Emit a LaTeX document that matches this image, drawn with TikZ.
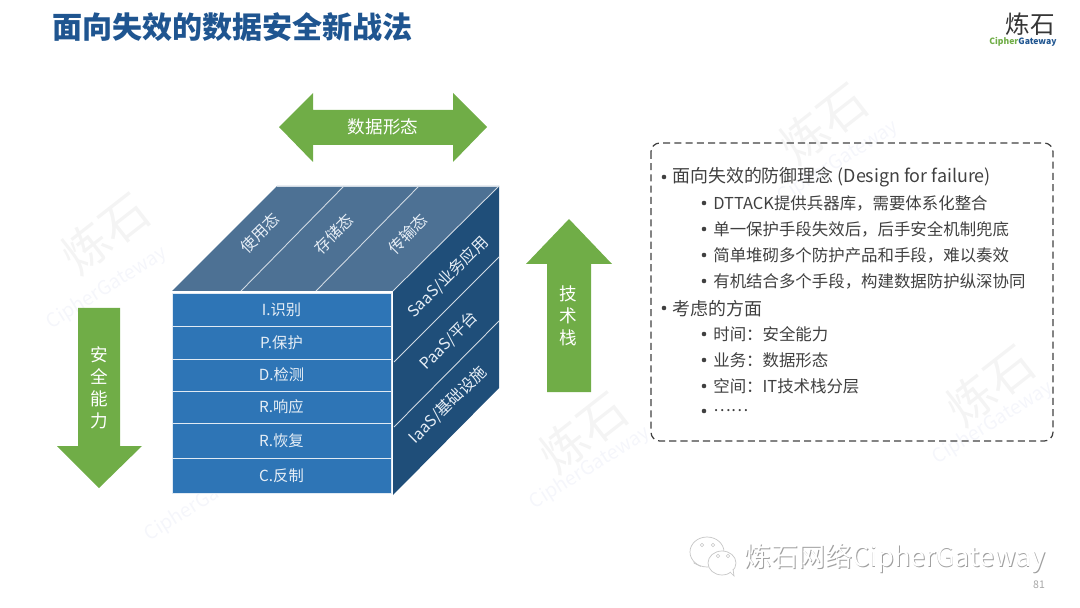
\documentclass[tikz,border=0pt]{standalone}
\usepackage{fontspec}
\setmainfont{Noto Sans CJK SC}
\usepackage{color}
\definecolor{titleblue}{HTML}{1F5590}
\definecolor{frontblue}{HTML}{2E75B6}
\definecolor{topblue}{HTML}{4D7194}
\definecolor{sideblue}{HTML}{1F4E79}
\definecolor{arrowgreen}{HTML}{70AD47}
\definecolor{bodygray}{HTML}{404040}
\definecolor{markgray}{HTML}{F4F4F4}
\definecolor{markblue}{HTML}{F5F6FB}
\tikzset{
rowbox/.style={draw=white!85!frontblue,line width=.4pt,fill=frontblue,text=white!88!frontblue,minimum width=4.38cm,inner sep=0pt,font=\fontsize{8.7}{10}\selectfont},
facetext/.style={text=white!88!frontblue,rotate=45,inner sep=0pt,font=\fontsize{9}{11}\selectfont},
facerule/.style={draw=white!75!topblue,line width=.5pt},
arrowtext/.style={text=white,inner sep=0pt,align=center,font=\fontsize{10}{12.5}\selectfont},
bigitem/.style={anchor=west,text=bodygray,inner sep=0pt,font=\fontsize{10.2}{12}\selectfont},
subitem/.style={anchor=west,text=bodygray,inner sep=0pt,font=\fontsize{9.35}{11}\selectfont},
dotitem/.style={circle,fill=bodygray,inner sep=0pt,minimum size=2.6pt},
markstone/.style={text=markgray,rotate=38,inner sep=0pt,font=\fontsize{27}{30}\selectfont},
markname/.style={text=markblue,rotate=32,inner sep=0pt,font=\fontsize{11}{13}\selectfont},
chatbubble/.style={draw=gray!45,fill=white,line width=.4pt},
chateye/.style={circle,draw=gray!45,fill=white,line width=.3pt,inner sep=0pt,minimum size=2pt},
}
\begin{document}
\begin{tikzpicture}[x=.02cm,y=-.02cm]
\useasboundingbox (0,0) rectangle (1080,608);
\node [markstone] (S1) at (105,233) {炼石};
\node [markname] (G1) at (107,288) {CipherGateway};
\node [markstone] (S2) at (583,432) {炼石};
\node [markname] (G2) at (590,468) {CipherGateway};
\node [markstone] (S3) at (990,385) {炼石};
\node [markname] (G3) at (993,423) {CipherGateway};
\node [markstone] (S4) at (823,123) {炼石};
\node [markname] (G4) at (838,162) {CipherGateway};
\node [markname] (G5) at (205,500) {CipherGateway};
\node [anchor=west,text=titleblue,inner sep=0pt,font=\fontsize{17.1}{20}\selectfont\bfseries] (Title) at (52,27) {面向失效的数据安全新战法};
\node [text=bodygray!85!black,inner sep=0pt,font=\fontsize{14}{16}\selectfont] (Logo) at (1030,24) {炼石};
\node [inner sep=0pt,font=\fontsize{4.9}{6}\selectfont\bfseries] (LogoName) at (1023,42) {\textcolor{arrowgreen}{Cipher}\textcolor{titleblue}{Gateway}};
\fill [arrowgreen] (279,127) -- (313,93) -- (313,110) -- (453,110) -- (453,93) -- (487,127) -- (453,162) -- (453,145) -- (313,145) -- (313,162) -- cycle;
\node [arrowtext] (Forms) at (383,127) {数据形态};
\fill [arrowgreen] (78,308) -- (120,308) -- (120,446) -- (142,446) -- (99,488) -- (57,446) -- (78,446) -- cycle;
\node [arrowtext] (Ability) at (99,388) {安\\全\\能\\力};
\fill [arrowgreen] (547,392) -- (591,392) -- (591,264) -- (612,264) -- (569,219) -- (526,264) -- (547,264) -- cycle;
\node [arrowtext] (Stack) at (568,316) {技\\术\\栈};
\coordinate (A) at (172,291);
\coordinate (B) at (277,186);
\coordinate (C) at (499,186);
\coordinate (D) at (393,291);
\coordinate (E) at (499,388);
\coordinate (F) at (393,495);
\fill [topblue] (A) -- (B) -- (C) -- (D) -- cycle;
\fill [sideblue] (D) -- (C) -- (E) -- (F) -- cycle;
\coordinate (T1) at (241,291);
\coordinate (T2) at (344,186);
\coordinate (T3) at (316,291);
\coordinate (T4) at (419,186);
\draw [facerule] (T1) -- (T2);
\draw [facerule] (T3) -- (T4);
\draw [facerule] (B) -- (C);
\coordinate (K1) at (394,362);
\coordinate (K2) at (499,257);
\coordinate (K3) at (394,427);
\coordinate (K4) at (499,321);
\draw [facerule] (K1) -- (K2);
\draw [facerule] (K3) -- (K4);
\draw [facerule] (D) -- (C);
\node [rowbox,minimum height=.66cm] (R1) at (281.5,309.5) {I.识别};
\node [rowbox,minimum height=.66cm] (R2) at (281.5,342.5) {P.保护};
\node [rowbox,minimum height=.64cm] (R3) at (281.5,375) {D.检测};
\node [rowbox,minimum height=.64cm] (R4) at (281.5,407) {R.响应};
\node [rowbox,minimum height=.70cm] (R5) at (281.5,440.5) {R.恢复};
\node [rowbox,minimum height=.70cm] (R6) at (281.5,475.5) {C.反制};
\node [facetext] (U1) at (260,233) {使用态};
\node [facetext] (U2) at (334,234) {存储态};
\node [facetext] (U3) at (408,234) {传输态};
\node [facetext] (L1) at (448,277) {SaaS/业务应用};
\node [facetext] (L2) at (449,341) {PaaS/平台};
\node [facetext] (L3) at (448,405) {IaaS/基础设施};
\draw [dashed,bodygray,line width=.7pt,dash pattern=on 4pt off 2.4pt,rounded corners=5pt] (651,143) rectangle (1053,441);
\node [dotitem] (D1) at (664,177) {};
\node [bigitem] (P1) at (672,177.5) {面向失效的防御理念 (Design for failure)};
\node [dotitem] (D2) at (704,203) {};
\node [subitem] (P2) at (713,203.5) {DTTACK提供兵器库，需要体系化整合};
\node [dotitem] (D3) at (704,229) {};
\node [subitem] (P3) at (713,229.5) {单一保护手段失效后，后手安全机制兜底};
\node [dotitem] (D4) at (704,255) {};
\node [subitem] (P4) at (713,255.5) {简单堆砌多个防护产品和手段，难以奏效};
\node [dotitem] (D5) at (704,281) {};
\node [subitem] (P5) at (713,281.5) {有机结合多个手段，构建数据防护纵深协同};
\node [dotitem] (D6) at (664,308) {};
\node [bigitem] (P6) at (672,308.5) {考虑的方面};
\node [dotitem] (D7) at (704,334) {};
\node [subitem] (P7) at (713,334.5) {时间：安全能力};
\node [dotitem] (D8) at (704,360) {};
\node [subitem] (P8) at (713,360.5) {业务：数据形态};
\node [dotitem] (D9) at (704,386) {};
\node [subitem] (P9) at (713,386.5) {空间：IT技术栈分层};
\node [dotitem] (D10) at (704,411) {};
\node [subitem] (P10) at (713,411) {……};
\draw [chatbubble] (700,566) -- (694,563) -- (695,557) -- cycle;
\draw [chatbubble] (707,552) ellipse (17 and 15);
\draw [chatbubble] (722,563) ellipse (14 and 12);
\draw [chatbubble] (730,572) -- (734,576) -- (733,569);
\node [chateye] (E1) at (702,545) {};
\node [chateye] (E2) at (713,545) {};
\node [chateye] (E3) at (718,556) {};
\node [chateye] (E4) at (728,556) {};
\node [text=gray!75,inner sep=0pt,font=\fontsize{15.4}{18}\selectfont] (Wechat2) at (895.7,558.7) {炼石网络CipherGateway};
\node [text=white,inner sep=0pt,font=\fontsize{15.4}{18}\selectfont] (Wechat) at (895,558) {炼石网络CipherGateway};
\node [text=gray!70,inner sep=0pt,font=\fontsize{6}{7}\selectfont] (Page) at (1039,585) {81};
\end{tikzpicture}
\end{document}
